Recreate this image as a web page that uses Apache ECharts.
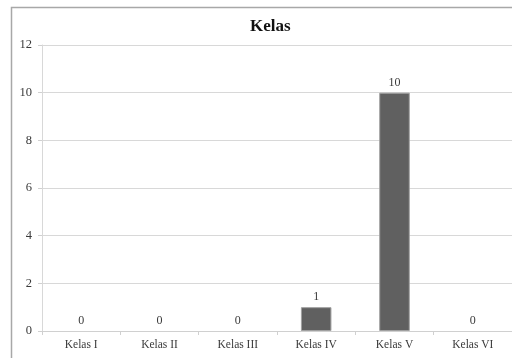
<!DOCTYPE html>
<html><head><meta charset="utf-8">
<script src="https://cdn.jsdelivr.net/npm/echarts@6/dist/echarts.min.js"></script>
<style>html,body{margin:0;padding:0;background:#fff}#c{width:512px;height:358px}</style>
</head><body><div id="c"></div>
<script>
var categories = ["Kelas I","Kelas II","Kelas III","Kelas IV","Kelas V","Kelas VI"];
var values = [0,0,0,1,10,0];
var yTicks = [0,2,4,6,8,10,12];
var titleText = "Kelas";

var chart = echarts.init(document.getElementById('c'), null, {renderer:'canvas'});
var font = "'Liberation Serif','Times New Roman',serif";
chart.setOption({
  animation:false,
  backgroundColor:'#fff',
  title:{text:titleText,left:245,top:13,textStyle:{fontFamily:font,fontSize:17,fontWeight:'bold',color:'#111'}},
  graphic:[{type:'rect',shape:{x:11.5,y:7.5,width:520,height:370},style:{fill:null,stroke:'#a8a8a8',lineWidth:1.5},silent:true,z:-1}],
  grid:{left:42,top:45,width:474,bottom:27,containLabel:false},
  xAxis:{type:'category',data:categories,
    axisLine:{lineStyle:{color:'#d0d0d0'}},
    axisTick:{show:true,length:4,lineStyle:{color:'#d0d0d0'}},
    axisLabel:{fontFamily:font,fontSize:11.5,color:'#3a3a3a',margin:8}},
  yAxis:{type:'value',min:0,max:12,interval:2,
    axisLine:{show:true,lineStyle:{color:'#d8d8d8'}},
    axisTick:{show:true,length:4,lineStyle:{color:'#d0d0d0'}},
    splitLine:{lineStyle:{color:'#d8d8d8'}},
    axisLabel:{fontFamily:font,fontSize:12.5,color:'#3a3a3a',margin:10}},
  series:[{type:'bar',barWidth:'39%',
    data:values.map(function(v){return {value:v,itemStyle:{borderWidth:v===0?0:1}};}),
    itemStyle:{color:'#606060',borderColor:'#a0a0a0'},
    label:{show:true,position:'top',distance:4,fontFamily:font,fontSize:12,color:'#3a3a3a'}}]
});
</script></body></html>
